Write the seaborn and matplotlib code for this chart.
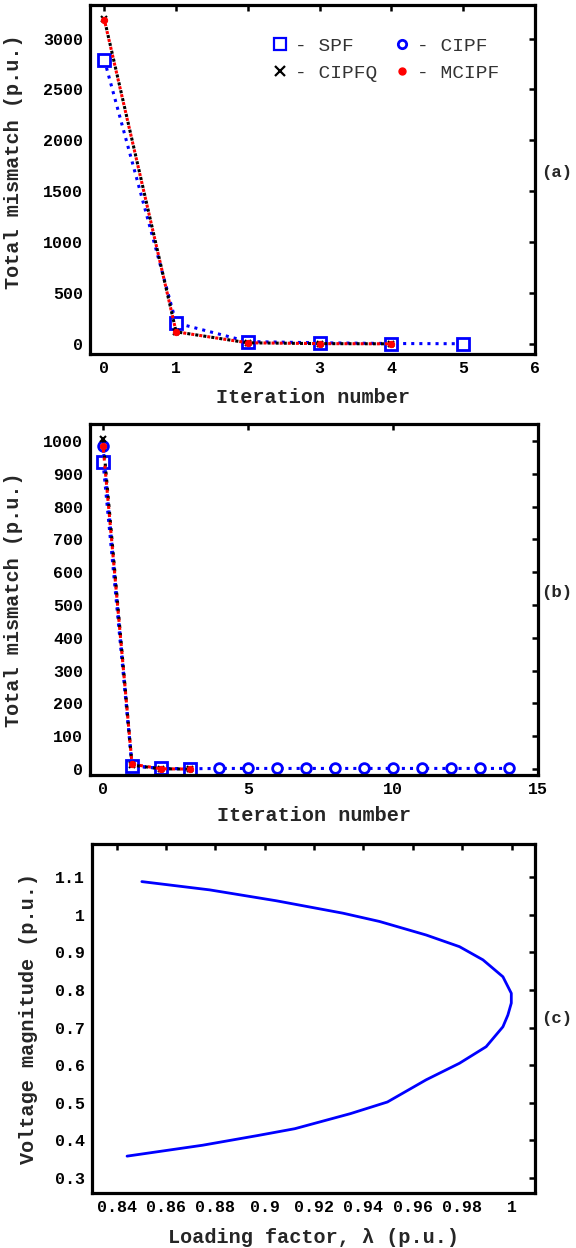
import numpy as np
import pandas as pd
import matplotlib
matplotlib.use('Agg')
import matplotlib.pyplot as plt
import seaborn as sns
from matplotlib.lines import Line2D

# ---------------- data ----------------
# Panel (a)
a_iter_spf = [0, 1, 2, 3, 4, 5]
a_spf = [2790, 205, 22, 10, 3, 1]
a_iter_q = [0, 1, 2, 3, 4]
a_cipfq = [3190, 118, 10, 2, 0]
a_mcipf = [3185, 118, 10, 2, 0]

# Panel (b)
b_iter_spf = [0, 1, 2, 3]
b_spf = [935, 10, 2, 1]
b_iter_cipf = [0, 1, 2, 3, 4, 5, 6, 7, 8, 9, 10, 11, 12, 13, 14]
b_cipf = [985, 10, 2, 1, 2, 2, 2, 2, 2, 2, 2, 2, 2, 2, 2]
b_iter_q = [0, 1, 2, 3]
b_cipfq = [1005, 12, 1, 0]
b_mcipf = [985, 15, 1, 0]

# Panel (c): PV curve
pv_lambda = [0.8502, 0.8777, 0.9047, 0.9317, 0.9465, 0.9654, 0.9789, 0.9884,
             0.9965, 0.9999, 0.9999, 0.9985, 0.9965, 0.9897, 0.9789, 0.9654,
             0.9497, 0.9347, 0.9122, 0.8973, 0.8748, 0.8442]
pv_voltage = [1.088, 1.066, 1.037, 1.004, 0.982, 0.946, 0.915, 0.880,
              0.835, 0.791, 0.765, 0.733, 0.702, 0.649, 0.605, 0.561,
              0.502, 0.471, 0.431, 0.413, 0.387, 0.358]

a_yticks = [0, 500, 1000, 1500, 2000, 2500, 3000]
a_xticks = [0, 1, 2, 3, 4, 5, 6]
b_yticks = [0, 100, 200, 300, 400, 500, 600, 700, 800, 900, 1000]
b_xticks = [0, 5, 10, 15]
c_yticks = [0.3, 0.4, 0.5, 0.6, 0.7, 0.8, 0.9, 1.0, 1.1]
c_xticks = [0.84, 0.86, 0.88, 0.9, 0.92, 0.94, 0.96, 0.98, 1.0]

# ---------------- style ----------------
sns.set_style('white')
MONO = ['Liberation Mono', 'DejaVu Sans Mono']
plt.rcParams['font.family'] = MONO
plt.rcParams['mathtext.fontset'] = 'dejavusans'

W, H = 576, 1248
fig = plt.figure(figsize=(W / 100, H / 100), dpi=100)


def box(l, t, r, b):
    return [l / W, 1 - b / H, (r - l) / W, (b - t) / H]


ax_a = fig.add_axes(box(90, 5, 535, 354))
ax_b = fig.add_axes(box(90, 424, 538, 775))
ax_c = fig.add_axes(box(92, 844, 535, 1193))


def style_axes(ax):
    for s in ax.spines.values():
        s.set_linewidth(2.3)
        s.set_color('black')
        s.set_visible(True)
    ax.tick_params(direction='in', length=4, width=1.8, top=True, right=True,
                   labelsize=12, pad=5, colors='black')
    for lab in ax.get_xticklabels() + ax.get_yticklabels():
        lab.set_fontweight('bold')
        lab.set_family(MONO)


LBL = dict(fontsize=14.5, fontweight='bold', family=MONO)
BLUE = '#0000ff'
RED = '#ff0000'

# ---------------- panel (a) ----------------
sns.lineplot(x=a_iter_spf, y=a_spf, ax=ax_a, color=BLUE, linestyle=':', lw=2.2,
             marker='s', markersize=8, markerfacecolor='white',
             markeredgecolor=BLUE, markeredgewidth=2)
sns.lineplot(x=a_iter_q, y=a_cipfq, ax=ax_a, color='black', linestyle=':', lw=2.2,
             marker='x', markersize=5, markeredgewidth=1.5, markeredgecolor='black')
sns.lineplot(x=a_iter_q, y=a_mcipf, ax=ax_a, color=RED, linestyle=(1.5, (1, 1.65)), lw=2.2,
             marker='o', markersize=4.5, markerfacecolor=RED, markeredgecolor=RED)
ax_a.set_xlim(-0.2, 6)
ax_a.set_ylim(-100, 3330)
ax_a.set_xticks(a_xticks)
ax_a.set_yticks(a_yticks)
ax_a.set_xlabel('Iteration number', **LBL)
ax_a.set_ylabel('Total mismatch (p.u.)', **LBL)
style_axes(ax_a)
ax_a.yaxis.set_label_coords(-0.15, 0.55)
ax_a.xaxis.set_label_coords(0.5, -0.097)

handles = [
    Line2D([], [], linestyle='none', marker='s', markersize=8, markerfacecolor='white',
           markeredgecolor=BLUE, markeredgewidth=1.6),
    Line2D([], [], linestyle='none', marker='x', markersize=7, markeredgecolor='black',
           markeredgewidth=1.6),
    Line2D([], [], linestyle='none', marker='o', markersize=6, markerfacecolor='white',
           markeredgecolor=BLUE, markeredgewidth=2),
    Line2D([], [], linestyle='none', marker='o', markersize=5, markerfacecolor=RED,
           markeredgecolor=RED),
]
labels = ['- SPF', '- CIPFQ', '- CIPF', '- MCIPF']
leg = ax_a.legend(handles, labels, ncol=2, loc='upper left', bbox_to_anchor=(0.387, 0.93),
                  frameon=False, handlelength=1.0, handletextpad=0.3, columnspacing=0.75,
                  labelspacing=0.5, borderaxespad=0,
                  prop={'family': MONO, 'size': 14})
for t in leg.get_texts():
    t.set_color('#333333')

# ---------------- panel (b) ----------------
sns.lineplot(x=b_iter_cipf, y=b_cipf, ax=ax_b, color=BLUE, linestyle=':', lw=2.2,
             marker='o', markersize=7, markerfacecolor='white',
             markeredgecolor=BLUE, markeredgewidth=2)
sns.lineplot(x=b_iter_spf, y=b_spf, ax=ax_b, color=BLUE, linestyle=':', lw=2.2,
             marker='s', markersize=8, markerfacecolor='white',
             markeredgecolor=BLUE, markeredgewidth=2)
sns.lineplot(x=b_iter_q, y=b_cipfq, ax=ax_b, color='black', linestyle=':', lw=2.2,
             marker='x', markersize=5, markeredgewidth=1.5, markeredgecolor='black')
sns.lineplot(x=b_iter_q, y=b_mcipf, ax=ax_b, color=RED, linestyle=(1.5, (1, 1.65)), lw=2.2,
             marker='o', markersize=4.5, markerfacecolor=RED, markeredgecolor=RED)
ax_b.set_xlim(-0.45, 15)
ax_b.set_ylim(-18, 1052)
ax_b.set_xticks(b_xticks)
ax_b.set_yticks(b_yticks)
ax_b.set_xlabel('Iteration number', **LBL)
ax_b.set_ylabel('Total mismatch (p.u.)', **LBL)
style_axes(ax_b)
ax_b.yaxis.set_label_coords(-0.15, 0.5)
ax_b.xaxis.set_label_coords(0.5, -0.088)

# ---------------- panel (c) ----------------
sns.lineplot(x=pv_lambda, y=pv_voltage, ax=ax_c, sort=False, estimator=None,
             color=BLUE, lw=2.0)
ax_c.set_xlim(0.83, 1.0095)
ax_c.set_ylim(0.26, 1.188)
ax_c.set_xticks(c_xticks)
ax_c.set_xticklabels(['%g' % v for v in c_xticks])
ax_c.set_yticks(c_yticks)
ax_c.set_yticklabels(['%g' % v for v in c_yticks])
ax_c.set_xlabel('Loading factor, λ (p.u.)', **LBL)
ax_c.set_ylabel('Voltage magnitude (p.u.)', **LBL)
style_axes(ax_c)
ax_c.yaxis.set_label_coords(-0.122, 0.5)
ax_c.xaxis.set_label_coords(0.5, -0.1)

# panel tags
for tag, y in [('(a)', 172), ('(b)', 593), ('(c)', 1018)]:
    fig.text(557 / W, 1 - y / H, tag, ha='center', va='center', fontsize=12.5,
             fontweight='bold', family=MONO)

fig.savefig('out.png', dpi=100)
